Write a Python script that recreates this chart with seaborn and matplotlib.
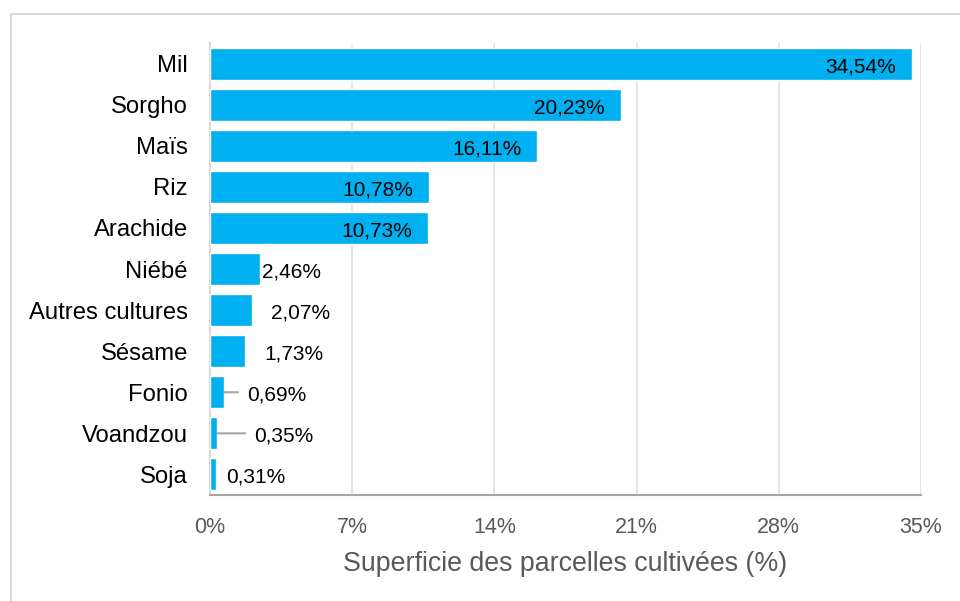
import matplotlib
matplotlib.use("Agg")
import matplotlib.pyplot as plt
import seaborn as sns
import pandas as pd
from matplotlib.lines import Line2D

# Data
crops = ["Mil", "Sorgho", "Maïs", "Riz", "Arachide", "Niébé",
         "Autres cultures", "Sésame", "Fonio", "Voandzou", "Soja"]
shares = [34.54, 20.23, 16.11, 10.78, 10.73, 2.46, 2.07, 1.73, 0.69, 0.35, 0.31]
x_ticks = [0, 7, 14, 21, 28, 35]

# Label placement (pixels from bar end); negative = inside the bar
label_gap_px = [-16, -16, -16, -16, -16, 2, 19, 19, 23, 37, 10]
leader_line = [False] * 8 + [True, True, False]

bar_color = "#00B0F0"
grey_text = "#595959"

sns.set_style("white")
plt.rcParams["font.family"] = ["Liberation Sans", "DejaVu Sans"]

df = pd.DataFrame({"crop": crops, "share": shares})

fig = plt.figure(figsize=(9.6, 6.01), dpi=100)
ax = fig.add_axes([210 / 960, 1 - 495 / 601, 711 / 960, 452 / 601])

sns.barplot(data=df, x="share", y="crop", orient="h", color=bar_color,
            saturation=1, width=0.78, ax=ax, zorder=3)

ax.set_xlim(0, 35)
ax.set_ylim(len(crops) - 0.5, -0.5)
ax.set_xticks(x_ticks)
ax.set_xticklabels([f"{t}%" for t in x_ticks])
ax.xaxis.grid(True, color="#e3e3e3", linewidth=1.3, zorder=0)
ax.set_axisbelow(True)

# spines
for side in ["top", "right"]:
    ax.spines[side].set_visible(False)
ax.spines["bottom"].set_color("#a6a6a6")
ax.spines["bottom"].set_linewidth(1.5)
ax.spines["left"].set_color("#d9d9d9")
ax.spines["left"].set_linewidth(1.5)

ax.tick_params(axis="x", direction="inout", length=11, width=1.5, color="#a6a6a6",
               labelsize=15.5, labelcolor=grey_text, pad=10)
ax.tick_params(axis="y", which="major", length=0, labelsize=17.2, labelcolor="black", pad=16)
ax.set_yticks([i - 0.5 for i in range(len(crops) + 1)], minor=True)
ax.tick_params(axis="y", which="minor", direction="inout", length=10, width=1.5, color="#d9d9d9")

ax.set_ylabel("")
ax.set_xlabel("Superficie des parcelles cultivées (%)", fontsize=19.3, color=grey_text, labelpad=10)

# data labels (slightly below bar centre, as in the reference)
for i, (v, gap) in enumerate(zip(shares, label_gap_px)):
    txt = f"{v:.2f}%".replace(".", ",")
    ax.annotate(txt, xy=(v, i), xytext=(gap, -3), textcoords="offset pixels",
                ha="right" if gap < 0 else "left", va="center",
                fontsize=15, color="black", zorder=5)
    if leader_line[i]:
        ax.annotate("", xy=(v, i), xytext=(gap - 9, 0), textcoords="offset pixels",
                    arrowprops=dict(arrowstyle="-", color="#a6a6a6", lw=1.5,
                                    shrinkA=0, shrinkB=0), zorder=4)

# chart frame (only left and top edges visible in the reference)
fx, fy = 11 / 960, 1 - 14 / 601
fig.add_artist(Line2D([fx, fx], [0, fy], color="#d9d9d9", lw=1.5))
fig.add_artist(Line2D([fx, 1], [fy, fy], color="#d9d9d9", lw=1.5))

fig.savefig("out.png", dpi=100)
